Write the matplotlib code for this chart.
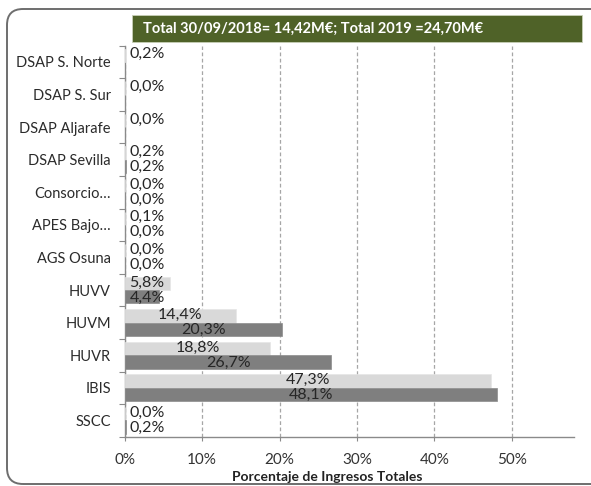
import numpy as np
import matplotlib
matplotlib.use("Agg")
import matplotlib.pyplot as plt
from matplotlib.patches import FancyBboxPatch, Rectangle

plt.rcParams['font.family'] = ['Lato', 'DejaVu Sans']

# data (percent of total income)
categories = ['DSAP S. Norte', 'DSAP S. Sur', 'DSAP Aljarafe', 'DSAP Sevilla',
              'Consorcio…', 'APES Bajo…', 'AGS Osuna', 'HUVV', 'HUVM',
              'HUVR', 'IBIS', 'SSCC']
pct_2018 = [0.2, 0.0, 0.0, 0.2, 0.0, 0.1, 0.0, 5.8, 14.4, 18.8, 47.3, 0.0]
pct_2019 = [np.nan, np.nan, np.nan, 0.2, 0.0, 0.0, 0.0, 4.4, 20.3, 26.7, 48.1, 0.2]
x_ticks = [0, 10, 20, 30, 40, 50]
title = 'Total 30/09/2018= 14,42M€; Total 2019 =24,70M€'
x_title = 'Porcentaje de Ingresos Totales'

W, H = 591, 486
fig = plt.figure(figsize=(W / 100, H / 100), dpi=100)

# rounded frame around everything
frame = FancyBboxPatch((7, 2), 600, 475, boxstyle='round,pad=0,rounding_size=16',
                       transform=None, fill=False, edgecolor='#6e6e6e', linewidth=1.4)
fig.patches.append(frame)

# green header box
header = Rectangle((131.7, 444.3), 450, 26.7, transform=None,
                   facecolor='#4f6228', edgecolor='#c8d0b8', linewidth=0.6)
fig.patches.append(header)
fig.text(142.7 / W, 457.5 / H, title, color='white', fontsize=10.5,
         fontweight='bold', ha='left', va='center')

x0, x1 = 124.7, 574.0
y_top, y_bot = 45.7, 436.7
ax = fig.add_axes([x0 / W, (H - y_bot) / H, (x1 - x0) / W, (y_bot - y_top) / H])

pos = np.arange(len(categories))
bh = 0.41
ax.barh(pos - bh / 2, pct_2018, height=bh, color='#d9d9d9', edgecolor='#e6e6e6', linewidth=0.5, zorder=3)
ax.barh(pos + bh / 2, pct_2019, height=bh, color='#7f7f7f', edgecolor='#8c8c8c', linewidth=0.5, zorder=3)

def fmt(v):
    return f'{v:.1f}'.replace('.', ',') + '%'

for i in range(len(categories)):
    for vals, off in ((pct_2018, -0.235), (pct_2019, 0.225)):
        v = vals[i]
        if np.isnan(v):
            continue
        ax.text(max(v / 2, 2.9), i + off, fmt(v), ha='center', va='center',
                fontsize=11.5, color='#262626', zorder=4)

ax.set_xlim(0, (x1 - x0) / 7.74)
ax.set_ylim(len(categories) - 0.5, -0.5)

ax.set_xticks(x_ticks)
ax.set_xticklabels([f'{t}%' for t in x_ticks], fontsize=11, color='#333333')
ax.tick_params(axis='x', length=3, color='#8a8a8a', pad=9)

# category boundary ticks, labels in the middle of each row
ax.set_yticks(np.arange(-0.5, len(categories)), labels=[])
ax.set_yticks(pos, labels=categories, minor=True)
ax.tick_params(axis='y', which='major', length=4, color='#8a8a8a', direction='out')
ax.tick_params(axis='y', which='minor', length=0, pad=10, labelsize=10.5, labelcolor='#2b2b2b')

ax.grid(axis='x', linestyle=(0, (3, 2)), color='#a6a6a6', linewidth=0.9, zorder=0)
for s in ('top', 'right'):
    ax.spines[s].set_visible(False)
for s in ('left', 'bottom'):
    ax.spines[s].set_color('#8a8a8a')
    ax.spines[s].set_linewidth(1.0)

fig.text(327.5 / W, (H - 477) / H, x_title, ha='center', va='center',
         fontsize=10, fontweight='bold', color='#222222')

fig.savefig('out.png', dpi=100)
